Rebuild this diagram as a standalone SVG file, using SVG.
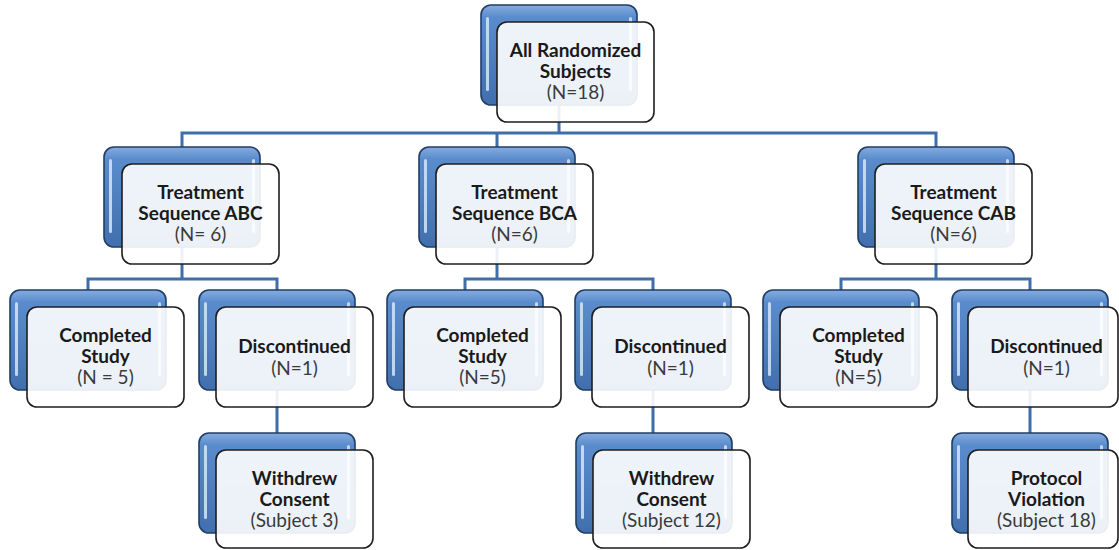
<svg xmlns="http://www.w3.org/2000/svg" width="1119" height="550" viewBox="0 0 1119 550">
<defs>
<linearGradient id="blueg" x1="0" y1="0" x2="0" y2="1">
<stop offset="0" stop-color="#86acdf"/>
<stop offset="0.12" stop-color="#5a8ccd"/>
<stop offset="1" stop-color="#416fae"/>
</linearGradient>
<g id="back">
<rect x="0" y="0" width="156" height="100" rx="10" fill="url(#blueg)" stroke="#203e66" stroke-width="1.6"/>
<rect x="5" y="12" width="3" height="74" rx="1.5" fill="#d6e6f7" opacity="0.85"/>
<rect x="148" y="12" width="3" height="74" rx="1.5" fill="#d6e6f7" opacity="0.85"/>
</g>
</defs>
<style>
.front{fill:#ffffff;fill-opacity:0.9;stroke:#1e1e1e;stroke-width:1.6}
.b{font-family:Lato,"Open Sans",sans-serif;font-weight:bold;font-size:19px;fill:#1a1a1a;text-anchor:middle}
.n{font-family:Lato,"Open Sans",sans-serif;font-size:19px;fill:#3a3a3a;text-anchor:middle}
.conn{fill:none;stroke:#3e6fa8;stroke-width:3}
</style>
<rect width="1119" height="550" fill="#ffffff"/>
<g id="connectors" class="conn">
<path d="M559,105 V133 M182,147 V133 H936 V147 M497,133 V147"/>
<path d="M182,247 V279 M88,290 V279 H277 V290"/>
<path d="M497,247 V279 M465,290 V279 H653 V290"/>
<path d="M936,247 V279 M841,290 V279 H1030 V290"/>
<path d="M277,390 V433 M653,390 V433 M1030,390 V433"/>
</g>
<g id="all">
<use href="#back" x="481" y="5"/>
<rect class="front" x="497" y="22" width="157" height="100" rx="10"/>
<text class="b" x="575.5" y="57">All Randomized</text>
<text class="b" x="575.5" y="78">Subjects</text>
<text class="n" x="575.5" y="99">(N=18)</text>
</g>
<g id="tabc">
<use href="#back" x="104" y="147"/>
<rect class="front" x="122" y="164" width="157" height="100" rx="10"/>
<text class="b" x="200.5" y="199">Treatment</text>
<text class="b" x="200.5" y="220">Sequence ABC</text>
<text class="n" x="200.5" y="241">(N= 6)</text>
</g>
<g id="tbca">
<use href="#back" x="419" y="147"/>
<rect class="front" x="436" y="164" width="157" height="100" rx="10"/>
<text class="b" x="514.5" y="199">Treatment</text>
<text class="b" x="514.5" y="220">Sequence BCA</text>
<text class="n" x="514.5" y="241">(N=6)</text>
</g>
<g id="tcab">
<use href="#back" x="858" y="147"/>
<rect class="front" x="875" y="164" width="157" height="100" rx="10"/>
<text class="b" x="953.5" y="199">Treatment</text>
<text class="b" x="953.5" y="220">Sequence CAB</text>
<text class="n" x="953.5" y="241">(N=6)</text>
</g>
<g id="cabc">
<use href="#back" x="10" y="290"/>
<rect class="front" x="27" y="307" width="157" height="100" rx="10"/>
<text class="b" x="105.5" y="342">Completed</text>
<text class="b" x="105.5" y="363">Study</text>
<text class="n" x="105.5" y="384">(N = 5)</text>
</g>
<g id="dabc">
<use href="#back" x="199" y="290"/>
<rect class="front" x="216" y="307" width="157" height="100" rx="10"/>
<text class="b" x="294.5" y="353">Discontinued</text>
<text class="n" x="294.5" y="375">(N=1)</text>
</g>
<g id="cbca">
<use href="#back" x="387" y="290"/>
<rect class="front" x="404" y="307" width="157" height="100" rx="10"/>
<text class="b" x="482.5" y="342">Completed</text>
<text class="b" x="482.5" y="363">Study</text>
<text class="n" x="482.5" y="384">(N=5)</text>
</g>
<g id="dbca">
<use href="#back" x="575" y="290"/>
<rect class="front" x="592" y="307" width="157" height="100" rx="10"/>
<text class="b" x="670.5" y="353">Discontinued</text>
<text class="n" x="670.5" y="375">(N=1)</text>
</g>
<g id="ccab">
<use href="#back" x="763" y="290"/>
<rect class="front" x="780" y="307" width="157" height="100" rx="10"/>
<text class="b" x="858.5" y="342">Completed</text>
<text class="b" x="858.5" y="363">Study</text>
<text class="n" x="858.5" y="384">(N=5)</text>
</g>
<g id="dcab">
<use href="#back" x="952" y="290"/>
<rect class="front" x="968" y="307" width="150" height="100" rx="10"/>
<text class="b" x="1046.5" y="353">Discontinued</text>
<text class="n" x="1046.5" y="375">(N=1)</text>
</g>
<g id="wabc">
<use href="#back" x="199" y="433"/>
<rect class="front" x="216" y="450" width="157" height="98" rx="10"/>
<text class="b" x="294.5" y="485">Withdrew</text>
<text class="b" x="294.5" y="506">Consent</text>
<text class="n" x="294.5" y="527">(Subject 3)</text>
</g>
<g id="wbca">
<use href="#back" x="576" y="433"/>
<rect class="front" x="593" y="450" width="157" height="98" rx="10"/>
<text class="b" x="671.5" y="485">Withdrew</text>
<text class="b" x="671.5" y="506">Consent</text>
<text class="n" x="671.5" y="527">(Subject 12)</text>
</g>
<g id="pcab">
<use href="#back" x="952" y="433"/>
<rect class="front" x="968" y="450" width="150" height="98" rx="10"/>
<text class="b" x="1046.5" y="485">Protocol</text>
<text class="b" x="1046.5" y="506">Violation</text>
<text class="n" x="1046.5" y="527">(Subject 18)</text>
</g>
</svg>
